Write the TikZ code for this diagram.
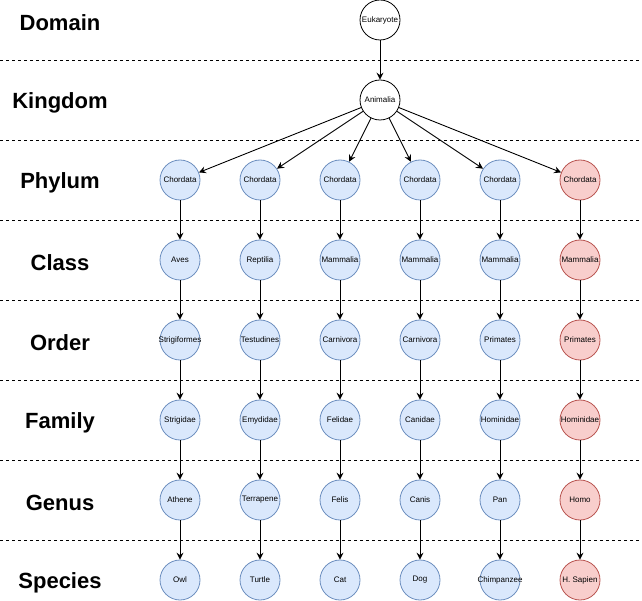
\documentclass[tikz,border=0pt]{standalone}
\usepackage{fontspec}
\setmainfont{Liberation Sans}
\usetikzlibrary{arrows.meta}
\definecolor{bluefill}{HTML}{DAE8FC}
\definecolor{bluedraw}{HTML}{6C8EBF}
\definecolor{redfill}{HTML}{F8CECC}
\definecolor{reddraw}{HTML}{B85450}
\tikzset{
  taxon/.style={circle, draw=black, line width=0.8pt, minimum size=40pt, inner sep=0pt,
    font=\fontsize{8}{9.6}\selectfont,
    execute at begin node={\hbox to 0pt\bgroup\hss},
    execute at end node={\hss\egroup}},
  bluenode/.style={taxon, fill=bluefill, draw=bluedraw},
  rednode/.style={taxon, fill=redfill, draw=reddraw},
  ranklabel/.style={font=\fontsize{22}{26}\selectfont\bfseries},
  sep/.style={dash pattern=on 3pt off 3pt, line width=0.8pt},
  link/.style={line width=0.9pt, -{Stealth[length=7pt,width=7pt,inset=2.5pt]}}
}
\begin{document}
\begin{tikzpicture}[x=1pt,y=-1pt]
\useasboundingbox (0,0) rectangle (642,601);
% separators
\foreach \y in {60,140,220,300,380,460,540} \draw[sep] (0,\y) -- (642,\y);
% rank labels
\foreach \t [count=\i from 0] in {Domain,Kingdom,Phylum,Class,Order,Family,Genus,Species}
  \node[ranklabel] (lab\i) at (60,{22.5+80*\i}) {\t};
% top nodes
\node[taxon] (euk) at (380,20) {Eukaryote};
\node[taxon] (ani) at (380,100) {Animalia};
\draw[link] (euk) -- (ani);
% columns
\foreach \c/\x/\st/\a/\b/\cc/\d/\e/\f in {
  1/180/bluenode/Chordata/Aves/Strigiformes/Strigidae/Athene/Owl,
  2/260/bluenode/Chordata/Reptilia/Testudines/Emydidae/Terrapene/Turtle,
  3/340/bluenode/Chordata/Mammalia/Carnivora/Felidae/Felis/Cat,
  4/420/bluenode/Chordata/Mammalia/Carnivora/Canidae/Canis/Dog,
  5/500/bluenode/Chordata/Mammalia/Primates/Hominidae/Pan/Chimpanzee,
  6/580/rednode/Chordata/Mammalia/Primates/Hominidae/Homo/H. Sapien}{
  \node[\st] (n\c-1) at (\x,180) {\a};
  \node[\st] (n\c-2) at (\x,260) {\b};
  \node[\st] (n\c-3) at (\x,340) {\cc};
  \node[\st] (n\c-4) at (\x,420) {\d};
  \node[\st] (n\c-5) at (\x,500) {\e};
  \node[\st] (n\c-6) at (\x,580) {\f};
  \draw[link] (ani) -- (n\c-1);
  \draw[link] (n\c-1) -- (n\c-2);
  \draw[link] (n\c-2) -- (n\c-3);
  \draw[link] (n\c-3) -- (n\c-4);
  \draw[link] (n\c-4) -- (n\c-5);
  \draw[link] (n\c-5) -- (n\c-6);
}
\end{tikzpicture}
\end{document}
